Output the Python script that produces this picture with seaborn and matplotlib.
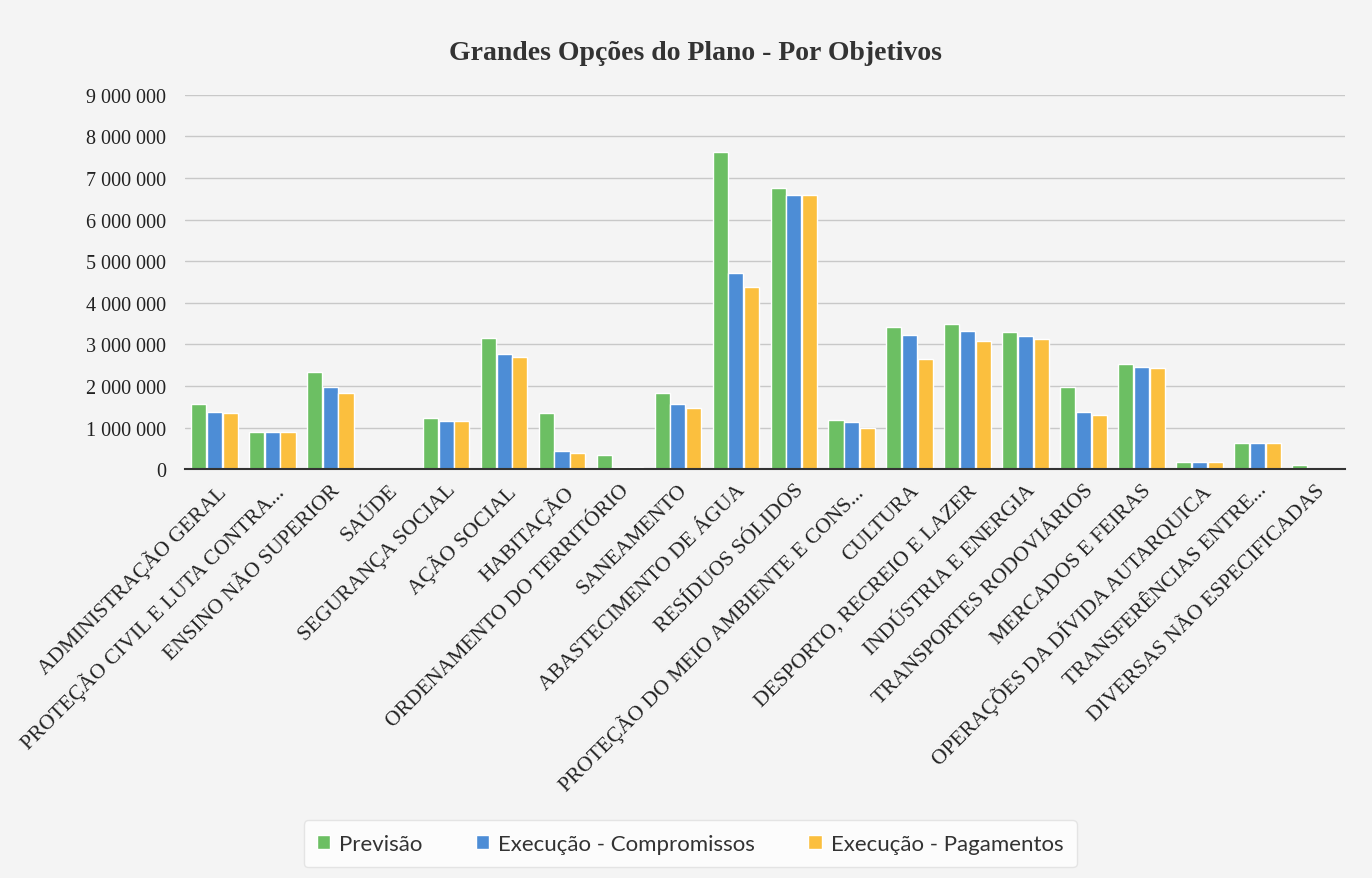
import pandas as pd
import seaborn as sns
import matplotlib.pyplot as plt
from matplotlib.ticker import FuncFormatter, FixedLocator

# Categories (objetivos) and series values
objetivos = [
    "ADMINISTRAÇÃO GERAL",
    "PROTEÇÃO CIVIL E LUTA CONTRA...",
    "ENSINO NÃO SUPERIOR",
    "SAÚDE",
    "SEGURANÇA SOCIAL",
    "AÇÃO SOCIAL",
    "HABITAÇÃO",
    "ORDENAMENTO DO TERRITÓRIO",
    "SANEAMENTO",
    "ABASTECIMENTO DE ÁGUA",
    "RESÍDUOS SÓLIDOS",
    "PROTEÇÃO DO MEIO AMBIENTE E CONS...",
    "CULTURA",
    "DESPORTO, RECREIO E LAZER",
    "INDÚSTRIA E ENERGIA",
    "TRANSPORTES RODOVIÁRIOS",
    "MERCADOS E FEIRAS",
    "OPERAÇÕES DA DÍVIDA AUTARQUICA",
    "TRANSFERÊNCIAS ENTRE...",
    "DIVERSAS NÃO ESPECIFICADAS",
]

previsao = [1570000, 890000, 2340000, 30000, 1230000, 3160000, 1350000, 350000, 1830000, 7630000,
            6770000, 1190000, 3410000, 3490000, 3310000, 1970000, 2530000, 180000, 640000, 100000]
compromissos = [1370000, 890000, 1980000, 10000, 1150000, 2770000, 430000, 60000, 1570000, 4720000,
                6600000, 1140000, 3230000, 3330000, 3210000, 1380000, 2450000, 170000, 620000, 0]
pagamentos = [1360000, 890000, 1830000, 10000, 1150000, 2700000, 380000, 60000, 1470000, 4380000,
              6600000, 1000000, 2650000, 3080000, 3130000, 1300000, 2430000, 170000, 620000, 0]

series = ["Previsão", "Execução - Compromissos", "Execução - Pagamentos"]
cores = ["#6cbf63", "#4d8dd6", "#fbbf3e"]

# long-form table for seaborn
df = pd.DataFrame({
    "objetivo": objetivos * 3,
    "valor": previsao + compromissos + pagamentos,
    "serie": [s for s in series for _ in objetivos],
})

sns.set_style("white")
plt.rcParams['font.family'] = ['Liberation Serif', 'DejaVu Serif']

fig = plt.figure(figsize=(13.72, 8.79), dpi=100, facecolor="#f4f4f4")
ax = fig.add_axes([0.135, 0.465, 0.845, 0.426])
ax.set_facecolor("none")

sns.barplot(data=df, x="objetivo", y="valor", hue="serie", palette=cores,
            width=0.82, gap=0.05, ax=ax, legend=True, saturation=1)

ax.set_ylim(0, 9000000)
ax.set_xlim(-0.5, len(objetivos) - 0.5)
ax.yaxis.set_major_locator(FixedLocator(range(0, 9000001, 1000000)))
ax.yaxis.set_major_formatter(FuncFormatter(lambda v, p: f"{int(v):,}".replace(",", " ")))
ax.grid(axis="y", color="#c8c8c8", linewidth=1)
ax.set_axisbelow(True)
for s in ["top", "right", "left"]:
    ax.spines[s].set_visible(False)
ax.spines["bottom"].set_color("#333333")
ax.spines["bottom"].set_linewidth(1.5)

ax.tick_params(axis="y", length=0, labelsize=14.5, pad=14, labelcolor="#222222")
ax.set_xticks(range(len(objetivos)))
ax.set_xticklabels(objetivos, rotation=45, ha="right", rotation_mode="anchor",
                   fontsize=15.5, color="#222222")
ax.tick_params(axis="x", length=0, pad=8)
# tick marks between categories
ax.set_xticks([i - 0.5 for i in range(len(objetivos) + 1)], minor=True)
ax.tick_params(axis="x", which="minor", length=6, width=1.5, color="#333333", direction="out")

ax.set_xlabel("")
ax.set_ylabel("")

ax.set_title("Grandes Opções do Plano - Por Objetivos", fontsize=20, fontweight="bold",
             color="#333333", pad=26, x=0.44)

handles, labels = ax.get_legend_handles_labels()
ax.legend_.remove()
leg = fig.legend(handles, labels, loc="center", bbox_to_anchor=(0.503, 0.039), ncol=3,
                 frameon=True, prop={"family": ["Lato", "DejaVu Sans"], "size": 16},
                 handlelength=0.6, handleheight=0.6, handletextpad=0.4, columnspacing=2.4,
                 borderpad=0.6, borderaxespad=0)
leg.get_frame().set_facecolor("white")
leg.get_frame().set_edgecolor("#e0e0e0")
for t in leg.get_texts():
    t.set_color("#333333")

fig.savefig("out.png", dpi=100, facecolor=fig.get_facecolor())
